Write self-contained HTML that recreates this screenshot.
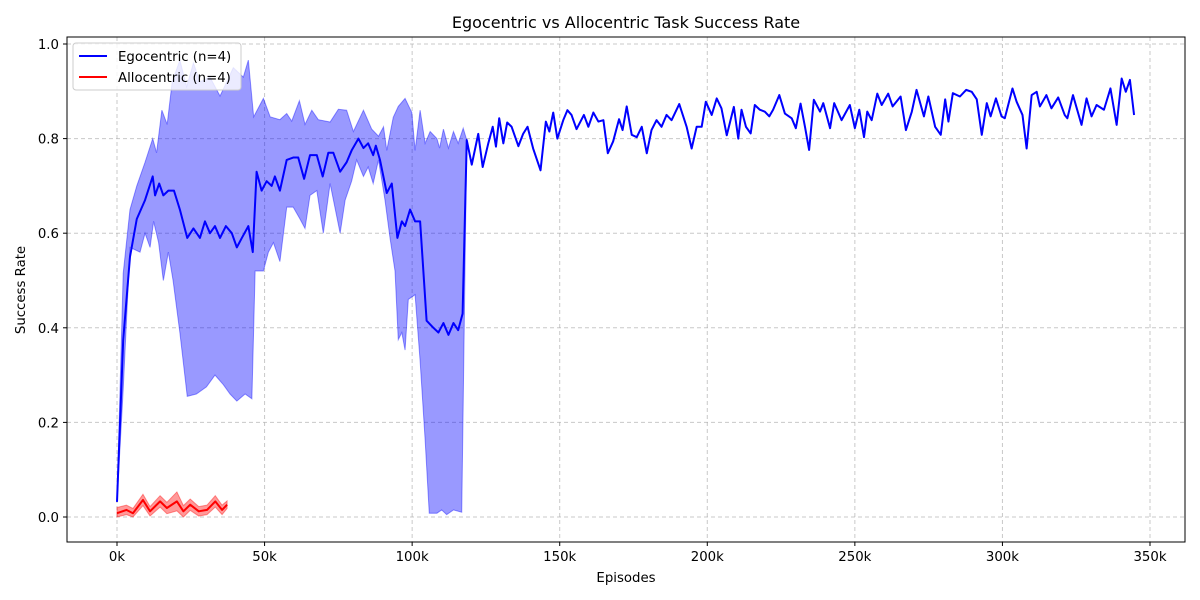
<!DOCTYPE html>
<html><head><meta charset="utf-8">
<style>
body{margin:0;background:#fff;}
svg{display:block;font-family:"DejaVu Sans","Liberation Sans",sans-serif;}
</style></head>
<body>
<svg id="chart" width="1200" height="600" viewBox="0 0 1200 600">
<rect x="0" y="0" width="1200" height="600" fill="#fff"/>
<text x="626" y="28" text-anchor="middle" font-size="16" fill="#000">Egocentric vs Allocentric Task Success Rate</text>
<g id="grid"></g>
<g id="series"></g>
<rect x="67" y="37" width="1118" height="505" fill="none" stroke="#000" stroke-width="1"/>
<g id="axes"></g>
<text x="626" y="582" text-anchor="middle" font-size="13.3">Episodes</text>
<text x="0" y="0" transform="translate(25,290) rotate(-90)" text-anchor="middle" font-size="13.3">Success Rate</text>
<g>
<rect x="73" y="43" width="168" height="47" rx="3" fill="#fff" fill-opacity="0.8" stroke="#ccc"/>
<line x1="79" y1="56" x2="107" y2="56" stroke="#0000ff" stroke-width="2"/>
<text x="118" y="61" font-size="13.3">Egocentric (n=4)</text>
<line x1="79" y1="77" x2="107" y2="77" stroke="#ff0000" stroke-width="2"/>
<text x="118" y="82" font-size="13.3">Allocentric (n=4)</text>
</g>
</svg>
<script>
const xTicks=[0,50,100,150,200,250,300,350];
const xTickLabels=["0k","50k","100k","150k","200k","250k","300k","350k"];
const yTicks=[0,0.2,0.4,0.6,0.8,1.0];
const yTickLabels=["0.0","0.2","0.4","0.6","0.8","1.0"];

const egoEp=[0,2.1,4.4,6.7,9.5,12.1,12.9,14.3,15.7,17.4,19.3,21.3,23.8,25.9,28.1,29.8,31.5,33.2,34.9,36.9,38.9,40.6,42.3,44.5,46,47.3,49,50.7,52.4,53.5,55.2,57.5,59.7,61.4,63.4,65.4,67.7,69.7,71.6,73.3,75.6,77.8,79.5,81.8,83.5,85.1,86.8,87.7,89.1,91.4,93.1,95,96.5,97.6,99.3,101,102.7,104.9,107.2,108.9,110.6,112.3,114,115.6,117.1,118.5,120.2,122.4,123.9,125.8,127.3,128.4,129.5,130.9,132.2,133.7,136,137.6,139.1,141,143.5,145.3,146.5,147.8,149.2,151.2,152.6,154,155.7,158.2,159.7,161.4,163.1,164.8,166.3,168.1,170.1,171.3,172.7,174.4,176.1,177.8,179.5,181.1,182.8,184.5,186.2,187.9,190.5,193,194.7,196.4,198.1,199.5,201.5,203.2,204.8,206.6,209,210.5,211.6,213.1,214.7,216.1,217.8,219.5,221,222.3,224.4,226.3,228.6,230,231.6,233.1,234.5,236.1,238.2,239.3,241.6,243,245.5,248.3,250,251.5,253.1,254.2,255.7,257.6,259.1,261.3,262.8,265.5,267.3,269.3,270.9,273.4,274.9,277.2,279.1,280.6,281.7,283.2,285.6,287.7,289.6,291.3,293,294.7,296,297.8,299.7,300.8,303.4,304.8,306.8,308.2,309.9,311.6,312.7,314.9,316.6,318.9,321.1,322,323.9,326.8,328.5,330.2,331.9,334.4,336.6,338.7,340.4,341.8,343.2,344.6];
const egoMean=[0.032,0.374,0.55,0.63,0.67,0.72,0.68,0.705,0.68,0.69,0.69,0.65,0.59,0.61,0.59,0.625,0.60,0.615,0.59,0.615,0.60,0.57,0.59,0.615,0.56,0.73,0.69,0.71,0.70,0.72,0.69,0.755,0.76,0.76,0.715,0.765,0.765,0.72,0.77,0.77,0.73,0.75,0.775,0.80,0.78,0.79,0.765,0.785,0.755,0.685,0.705,0.59,0.625,0.615,0.65,0.625,0.625,0.415,0.40,0.39,0.41,0.385,0.41,0.395,0.43,0.797,0.745,0.81,0.74,0.79,0.825,0.783,0.843,0.79,0.834,0.825,0.784,0.81,0.825,0.779,0.733,0.836,0.815,0.855,0.80,0.839,0.86,0.85,0.82,0.85,0.825,0.855,0.836,0.839,0.769,0.794,0.841,0.818,0.868,0.808,0.803,0.825,0.769,0.818,0.839,0.825,0.85,0.839,0.873,0.825,0.779,0.825,0.825,0.878,0.85,0.885,0.864,0.807,0.867,0.80,0.861,0.825,0.811,0.871,0.861,0.857,0.847,0.861,0.892,0.853,0.843,0.822,0.874,0.825,0.776,0.882,0.857,0.875,0.822,0.875,0.839,0.871,0.822,0.861,0.803,0.857,0.839,0.895,0.871,0.895,0.868,0.889,0.818,0.857,0.903,0.847,0.889,0.825,0.808,0.883,0.836,0.896,0.889,0.903,0.899,0.883,0.808,0.875,0.847,0.885,0.847,0.843,0.906,0.878,0.85,0.779,0.892,0.899,0.868,0.892,0.864,0.887,0.85,0.843,0.892,0.829,0.885,0.847,0.871,0.861,0.906,0.829,0.927,0.899,0.924,0.85];

const upperEp=[0,2.1,4.4,6.7,9.5,12.1,13.4,15.2,17,18.7,21.3,23.6,25.9,28.1,31.5,34.9,37.2,39.4,42.8,44.5,46.3,49.6,51.9,55.2,57.5,59.2,61.8,63.7,66,68.2,72.2,75,77.8,80.1,83.5,86.3,88.6,90.3,91.4,93.6,95.3,97.6,99.9,101,102.7,104.4,106.1,108.4,109.3,110.6,112.3,114,115.6,117.3,118.5];
const upperVal=[0.032,0.515,0.65,0.70,0.75,0.80,0.77,0.86,0.83,0.92,0.966,0.91,0.96,0.92,0.93,0.89,0.92,0.95,0.93,0.966,0.846,0.885,0.846,0.84,0.853,0.837,0.88,0.83,0.86,0.84,0.835,0.862,0.86,0.815,0.86,0.82,0.805,0.825,0.775,0.845,0.868,0.885,0.855,0.775,0.86,0.79,0.815,0.80,0.78,0.82,0.78,0.815,0.79,0.822,0.797];
const lowerEp=[0,2.1,4.4,7.8,9.5,11.2,12.4,14.1,15.7,17.4,19,21.3,23.8,26.9,30.3,33.2,36,38.3,40.6,43.4,45.7,46.8,49.6,51.3,53,55.2,57.5,59.7,62,63.7,65.4,67.7,69.9,72.2,75.6,77.3,79.5,81.2,83.5,85.1,86.8,88.6,90.8,92.5,94.2,95.3,96.5,97.6,98.7,101,102.7,104.4,105.8,108.4,110,111.7,114,116.8,118.5];
const lowerVal=[0.032,0.27,0.57,0.56,0.60,0.57,0.625,0.58,0.50,0.56,0.50,0.39,0.255,0.26,0.275,0.30,0.28,0.26,0.245,0.26,0.25,0.52,0.52,0.56,0.58,0.54,0.655,0.655,0.63,0.61,0.68,0.69,0.60,0.705,0.60,0.67,0.71,0.755,0.72,0.74,0.705,0.755,0.67,0.59,0.52,0.375,0.39,0.353,0.46,0.47,0.33,0.163,0.008,0.008,0.015,0.005,0.015,0.01,0.797];

const alloEp=[0,3.2,5.4,8.8,11.2,14.6,16.9,20.3,22.5,24.8,27.7,30.5,33.3,35.6,37.3];
const alloMean=[0.008,0.015,0.008,0.036,0.012,0.033,0.019,0.033,0.012,0.026,0.012,0.015,0.033,0.015,0.026];
const alloSpread=[0.012,0.01,0.01,0.012,0.01,0.012,0.012,0.02,0.012,0.012,0.01,0.01,0.012,0.01,0.008];

const NS="http://www.w3.org/2000/svg";
const xScale=k=>117+k*(1033/350);
const yScale=v=>517-v*473;
function mk(tag,attrs,parent){const e=document.createElementNS(NS,tag);for(const a in attrs)e.setAttribute(a,attrs[a]);parent.appendChild(e);return e;}
const grid=document.getElementById('grid'),axes=document.getElementById('axes'),series=document.getElementById('series');

xTicks.forEach((t,i)=>{
  const x=xScale(t);
  const g=mk('line',{x1:x,x2:x,y1:37,y2:542,stroke:'#b0b0b0','stroke-dasharray':'4,3','stroke-opacity':0.7},grid);
  
  
  const tk=mk('line',{x1:x,x2:x,y1:542,y2:546,stroke:'#000'},axes);
  
  
  const tx=mk('text',{x:x,y:561,'text-anchor':'middle','font-size':13.3},axes);
  tx.textContent=xTickLabels[i];
  
  
});
yTicks.forEach((t,i)=>{
  const y=yScale(t);
  const g=mk('line',{x1:67,x2:1185,y1:y,y2:y,stroke:'#b0b0b0','stroke-dasharray':'4,3','stroke-opacity':0.7},grid);
  
  
  const tk=mk('line',{x1:63,x2:67,y1:y,y2:y,stroke:'#000'},axes);
  
  
  const tx=mk('text',{x:59,y:y+5,'text-anchor':'end','font-size':13.3},axes);
  tx.textContent=yTickLabels[i];
  
  
});

let pts=upperEp.map((e,i)=>xScale(e)+','+yScale(upperVal[i]));
for(let i=lowerEp.length-1;i>=0;i--)pts.push(xScale(lowerEp[i])+','+yScale(lowerVal[i]));
const band=mk('polygon',{points:pts.join(' '),fill:'#0000ff','fill-opacity':0.4,stroke:'#0000ff','stroke-opacity':0.4,'stroke-width':1},series);



let ap=alloEp.map((e,i)=>xScale(e)+','+yScale(alloMean[i]+alloSpread[i]));
for(let i=alloEp.length-1;i>=0;i--)ap.push(xScale(alloEp[i])+','+yScale(Math.max(0,alloMean[i]-alloSpread[i])));
const aband=mk('polygon',{points:ap.join(' '),fill:'#ff0000','fill-opacity':0.4,stroke:'#ff0000','stroke-opacity':0.4},series);



const eline=mk('polyline',{points:egoEp.map((e,i)=>xScale(e)+','+yScale(egoMean[i])).join(' '),fill:'none',stroke:'#0000ff','stroke-width':2,'stroke-linejoin':'round'},series);


const aline=mk('polyline',{points:alloEp.map((e,i)=>xScale(e)+','+yScale(alloMean[i])).join(' '),fill:'none',stroke:'#ff0000','stroke-width':2,'stroke-linejoin':'round'},series);


</script>
</body></html>
